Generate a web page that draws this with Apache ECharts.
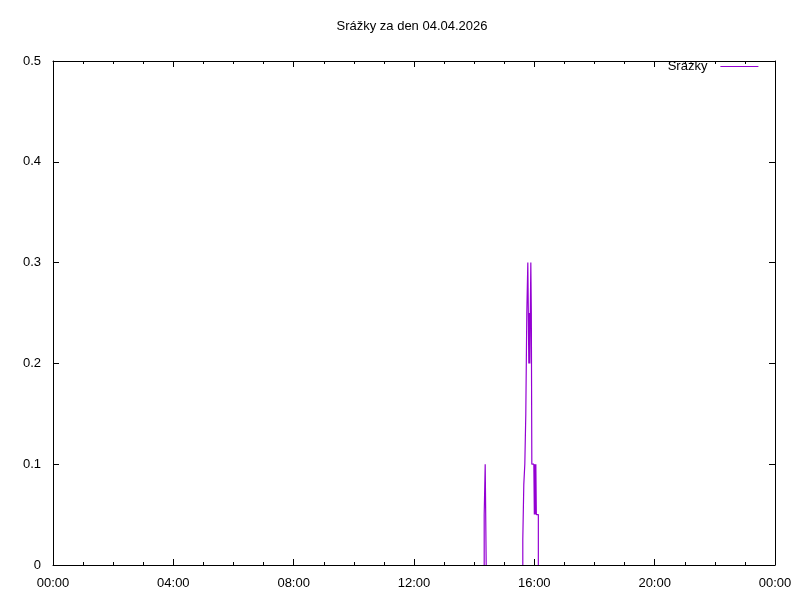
<!DOCTYPE html>
<html>
<head>
<meta charset="utf-8">
<script src="https://cdn.jsdelivr.net/npm/echarts@6/dist/echarts.min.js"></script>
<style>
  html, body { margin: 0; padding: 0; background: #fff; }
  #chart { width: 800px; height: 600px; }
</style>
</head>
<body>
<div id="chart"></div>
<script>
// data (mm per sample)
const shower1Times = ["14:20", "14:21", "14:22", "14:23", "14:24", "14:25"];
const shower1Values = [0, 0.05, 0.05, 0.1, 0.05, 0];

const shower2Times = [
  "15:37", "15:38", "15:39", "15:40", "15:41", "15:42", "15:43", "15:44",
  "15:45", "15:46", "15:47", "15:48", "15:49", "15:50", "15:51", "15:52",
  "15:53", "15:54", "15:55", "15:56", "15:57", "15:58", "15:59", "16:00",
  "16:01", "16:02", "16:03", "16:04", "16:05", "16:06", "16:07", "16:08",
  "16:09",
];
const shower2Values = [
  0, 0.025, 0.025, 0.08, 0.08, 0.1, 0.1, 0.15,
  0.15, 0.25, 0.25, 0.3, 0.25, 0.2, 0.25, 0.2,
  0.25, 0.3, 0.25, 0.1, 0.1, 0.1, 0.1, 0.1,
  0.05, 0.1, 0.05, 0.1, 0.05, 0.05, 0.05, 0.05,
  0,
];

const yTicks = [0, 0.1, 0.2, 0.3, 0.4, 0.5];

const font = "Liberation Sans, Arial, sans-serif";
const violet = "#9400d3";

function toMin(t) {
  const [h, m] = t.split(":").map(Number);
  return h * 60 + m;
}
function pad(n) {
  return (n < 10 ? "0" : "") + n;
}
function hhmm(v) {
  return pad(Math.floor(v / 60) % 24) + ":" + pad(v % 60);
}

function pairs(times, values) {
  return times.map((t, i) => [toMin(t), values[i]]);
}
// null between the showers so no line runs along the zero border
const seriesData = pairs(shower1Times, shower1Values)
  .concat([[null, null]])
  .concat(pairs(shower2Times, shower2Values));

const tickStyle = { color: "#000", width: 1 };

function xAxisOf(position, labels) {
  return {
    type: "value",
    min: 0,
    max: 1440,
    interval: 240,
    position,
    axisLine: { show: true, onZero: false, lineStyle: tickStyle },
    axisTick: { show: true, inside: true, length: 6, lineStyle: tickStyle },
    minorTick: { show: true, splitNumber: 4, length: 3, lineStyle: tickStyle },
    splitLine: { show: false },
    axisLabel: labels
      ? { color: "#000", fontSize: 13, fontFamily: font, margin: 12, formatter: hhmm }
      : { show: false },
  };
}

function yAxisOf(position, labels) {
  return {
    type: "value",
    min: yTicks[0],
    max: yTicks[yTicks.length - 1],
    interval: 0.1,
    position,
    axisLine: { show: true, onZero: false, lineStyle: tickStyle },
    axisTick: { show: true, inside: true, length: 6, lineStyle: tickStyle },
    splitLine: { show: false },
    axisLabel: labels
      ? {
          color: "#000",
          fontSize: 13,
          fontFamily: font,
          margin: 12,
          formatter: (v) => String(+v.toFixed(1)),
        }
      : { show: false },
  };
}

const myChart = echarts.init(document.getElementById("chart"), null, { renderer: "canvas" });

const option = {
  animation: false,
  backgroundColor: "#fff",
  textStyle: { fontFamily: font },
  title: {
    text: "Srážky za den 04.04.2026",
    left: 412,
    textAlign: "center",
    top: 20,
    padding: 0,
    textStyle: { fontFamily: font, fontSize: 13, fontWeight: "normal", color: "#000" },
  },
  legend: {
    data: ["Srážky"],
    align: "right",
    right: 41,
    top: 60,
    padding: 0,
    itemWidth: 38,
    itemHeight: 12,
    itemStyle: { opacity: 0 },
    lineStyle: { color: violet, width: 1.2 },
    textStyle: { fontFamily: font, fontSize: 13, color: "#000", padding: [0, 8, 0, 0] },
  },
  grid: { left: 53, right: 25, top: 61, bottom: 35 },
  xAxis: [xAxisOf("bottom", true), xAxisOf("top", false)],
  yAxis: [yAxisOf("left", true), yAxisOf("right", false)],
  series: [
    {
      name: "Srážky",
      type: "line",
      xAxisIndex: 0,
      yAxisIndex: 0,
      symbol: "none",
      step: "start",
      connectNulls: false,
      data: seriesData,
      itemStyle: { color: violet },
      lineStyle: { color: violet, width: 1.2 },
      z: 1,
    },
  ],
};

myChart.setOption(option);
</script>
</body>
</html>
